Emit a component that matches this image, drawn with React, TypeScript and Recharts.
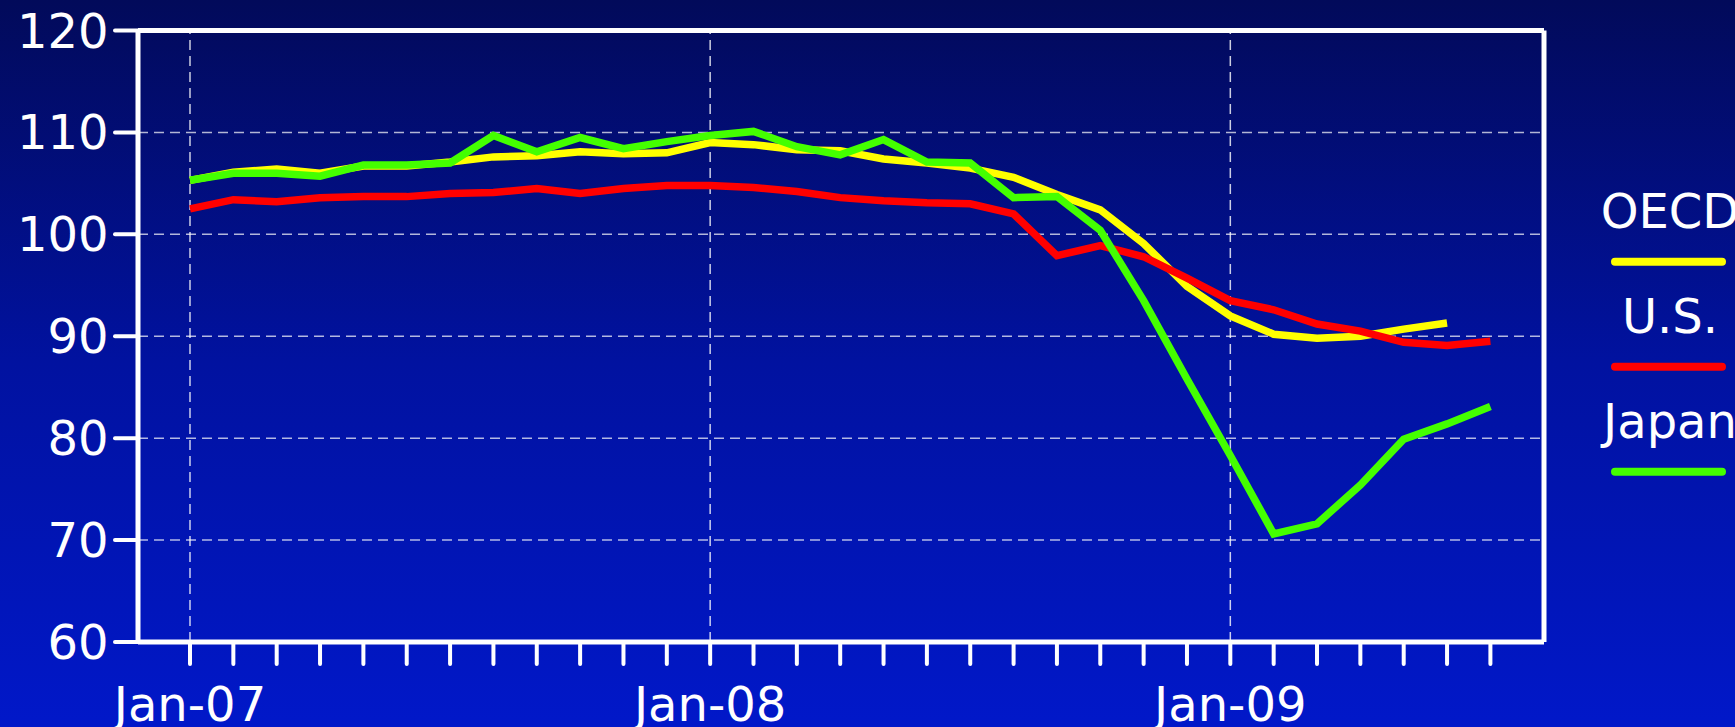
import {
  LineChart,
  Line,
  XAxis,
  YAxis,
  CartesianGrid,
  ReferenceLine,
  Legend,
} from "recharts";

const months = [
  "Jan-07", "Feb-07", "Mar-07", "Apr-07", "May-07", "Jun-07", "Jul-07", "Aug-07", "Sep-07", "Oct-07", "Nov-07", "Dec-07",
  "Jan-08", "Feb-08", "Mar-08", "Apr-08", "May-08", "Jun-08", "Jul-08", "Aug-08", "Sep-08", "Oct-08", "Nov-08", "Dec-08",
  "Jan-09", "Feb-09", "Mar-09", "Apr-09", "May-09", "Jun-09", "Jul-09",
];

const oecd = [
  105.3, 106.1, 106.4, 106.0, 106.7, 106.7, 107.1, 107.6, 107.7, 108.1, 107.9, 108.0,
  109.0, 108.8, 108.3, 108.2, 107.4, 107.0, 106.5, 105.6, 103.9, 102.4, 99.1, 94.9,
  92.0, 90.2, 89.8, 90.0, 90.7, 91.3, null,
];

const us = [
  102.5, 103.4, 103.2, 103.6, 103.7, 103.7, 104.0, 104.1, 104.5, 104.0, 104.5, 104.8,
  104.8, 104.6, 104.2, 103.6, 103.3, 103.1, 103.0, 102.0, 97.9, 98.9, 97.8, 95.7,
  93.5, 92.6, 91.2, 90.5, 89.4, 89.1, 89.5,
];

const japan = [
  105.3, 106.0, 106.0, 105.7, 106.8, 106.8, 107.0, 109.7, 108.1, 109.5, 108.4, 109.1,
  109.7, 110.1, 108.6, 107.8, 109.3, 107.1, 107.0, 103.6, 103.7, 100.4, 93.5, 85.8,
  78.3, 70.6, 71.6, 75.4, 79.9, 81.4, 83.1,
];

const seriesNames = ["OECD", "U.S.", "Japan"];
const yTicks = [60, 70, 80, 90, 100, 110, 120];
const yearMarks = ["Jan-07", "Jan-08", "Jan-09"];

const data = months.map((month, i) => ({
  month,
  oecd: oecd[i],
  us: us[i],
  japan: japan[i],
}));

const font = "'DejaVu Sans', Verdana, sans-serif";
const white = "#ffffff";

function LegendBox(props: any) {
  // keep the order of the series, not alphabetical
  const items = [...(props.payload || [])]
    .filter((e: any) => seriesNames.includes(e.value))
    .sort((a: any, b: any) => seriesNames.indexOf(a.value) - seriesNames.indexOf(b.value));
  return (
    <svg width={135} height={340}>
      {items.map((entry: any, i: number) => (
        <g key={entry.value}>
          <text
            x={70}
            y={68 + i * 105}
            textAnchor="middle"
            fill={white}
            fontSize={48}
            fontFamily={font}
          >
            {entry.value}
          </text>
          <line
            x1={15}
            x2={122}
            y1={101.7 + i * 105}
            y2={101.7 + i * 105}
            stroke={entry.color}
            strokeWidth={8}
            strokeLinecap="round"
          />
        </g>
      ))}
    </svg>
  );
}

export default function App() {
  return (
    <div
      style={{
        position: "absolute",
        left: 0,
        top: 0,
        width: 1735,
        height: 727,
        overflow: "hidden",
        background: "linear-gradient(180deg, #020a5a 0%, #0112a0 50%, #0118c9 100%)",
        fontFamily: font,
      }}
    >
      <LineChart
        width={1735}
        height={727}
        data={data}
        margin={{ top: 29.5, right: 190, bottom: 0, left: 0 }}
      >
        <CartesianGrid
          vertical={false}
          stroke={white}
          strokeOpacity={0.7}
          strokeWidth={1.5}
          strokeDasharray="10 6"
        />
        {yearMarks.map((m) => (
          <ReferenceLine
            key={m}
            x={m}
            stroke={white}
            strokeOpacity={0.8}
            strokeWidth={1.5}
            strokeDasharray="10 6"
          />
        ))}
        <XAxis
          dataKey="month"
          interval={0}
          height={85}
          padding={{ left: 52, right: 53.6 }}
          axisLine={{ stroke: white, strokeWidth: 5 }}
          tickLine={{ stroke: white, strokeWidth: 4, strokeLinecap: "round" }}
          tickSize={22}
          tickMargin={23}
          tick={{ fill: white, fontSize: 48, fontFamily: font }}
          tickFormatter={(v: string) => (v.startsWith("Jan") ? v : "")}
        />
        <XAxis
          xAxisId="top"
          orientation="top"
          dataKey="month"
          height={1}
          tick={false}
          tickLine={false}
          axisLine={{ stroke: white, strokeWidth: 5 }}
        />
        <YAxis
          type="number"
          domain={[60, 120]}
          ticks={yTicks}
          width={138}
          axisLine={{ stroke: white, strokeWidth: 5 }}
          tickLine={{ stroke: white, strokeWidth: 4, strokeLinecap: "round" }}
          tickSize={23}
          tickMargin={6.5}
          tick={{ fill: white, fontSize: 48, fontFamily: font }}
        />
        <YAxis
          yAxisId="right"
          orientation="right"
          type="number"
          domain={[60, 120]}
          ticks={yTicks}
          width={1}
          tick={false}
          tickLine={false}
          axisLine={{ stroke: white, strokeWidth: 5 }}
        />
        <Legend
          layout="vertical"
          align="center"
          verticalAlign="middle"
          wrapperStyle={{ left: 1600, top: 160, width: 135, height: 340 }}
          content={LegendBox}
        />
        <Line
          dataKey="oecd"
          name="OECD"
          stroke="#ffff00"
          strokeWidth={7.5}
          dot={false}
          activeDot={false}
          isAnimationActive={false}
        />
        <Line
          dataKey="us"
          name="U.S."
          stroke="#ff0000"
          strokeWidth={7.5}
          dot={false}
          activeDot={false}
          isAnimationActive={false}
        />
        <Line
          dataKey="japan"
          name="Japan"
          stroke="#44ff00"
          strokeWidth={7.5}
          dot={false}
          activeDot={false}
          isAnimationActive={false}
        />
      </LineChart>
    </div>
  );
}
